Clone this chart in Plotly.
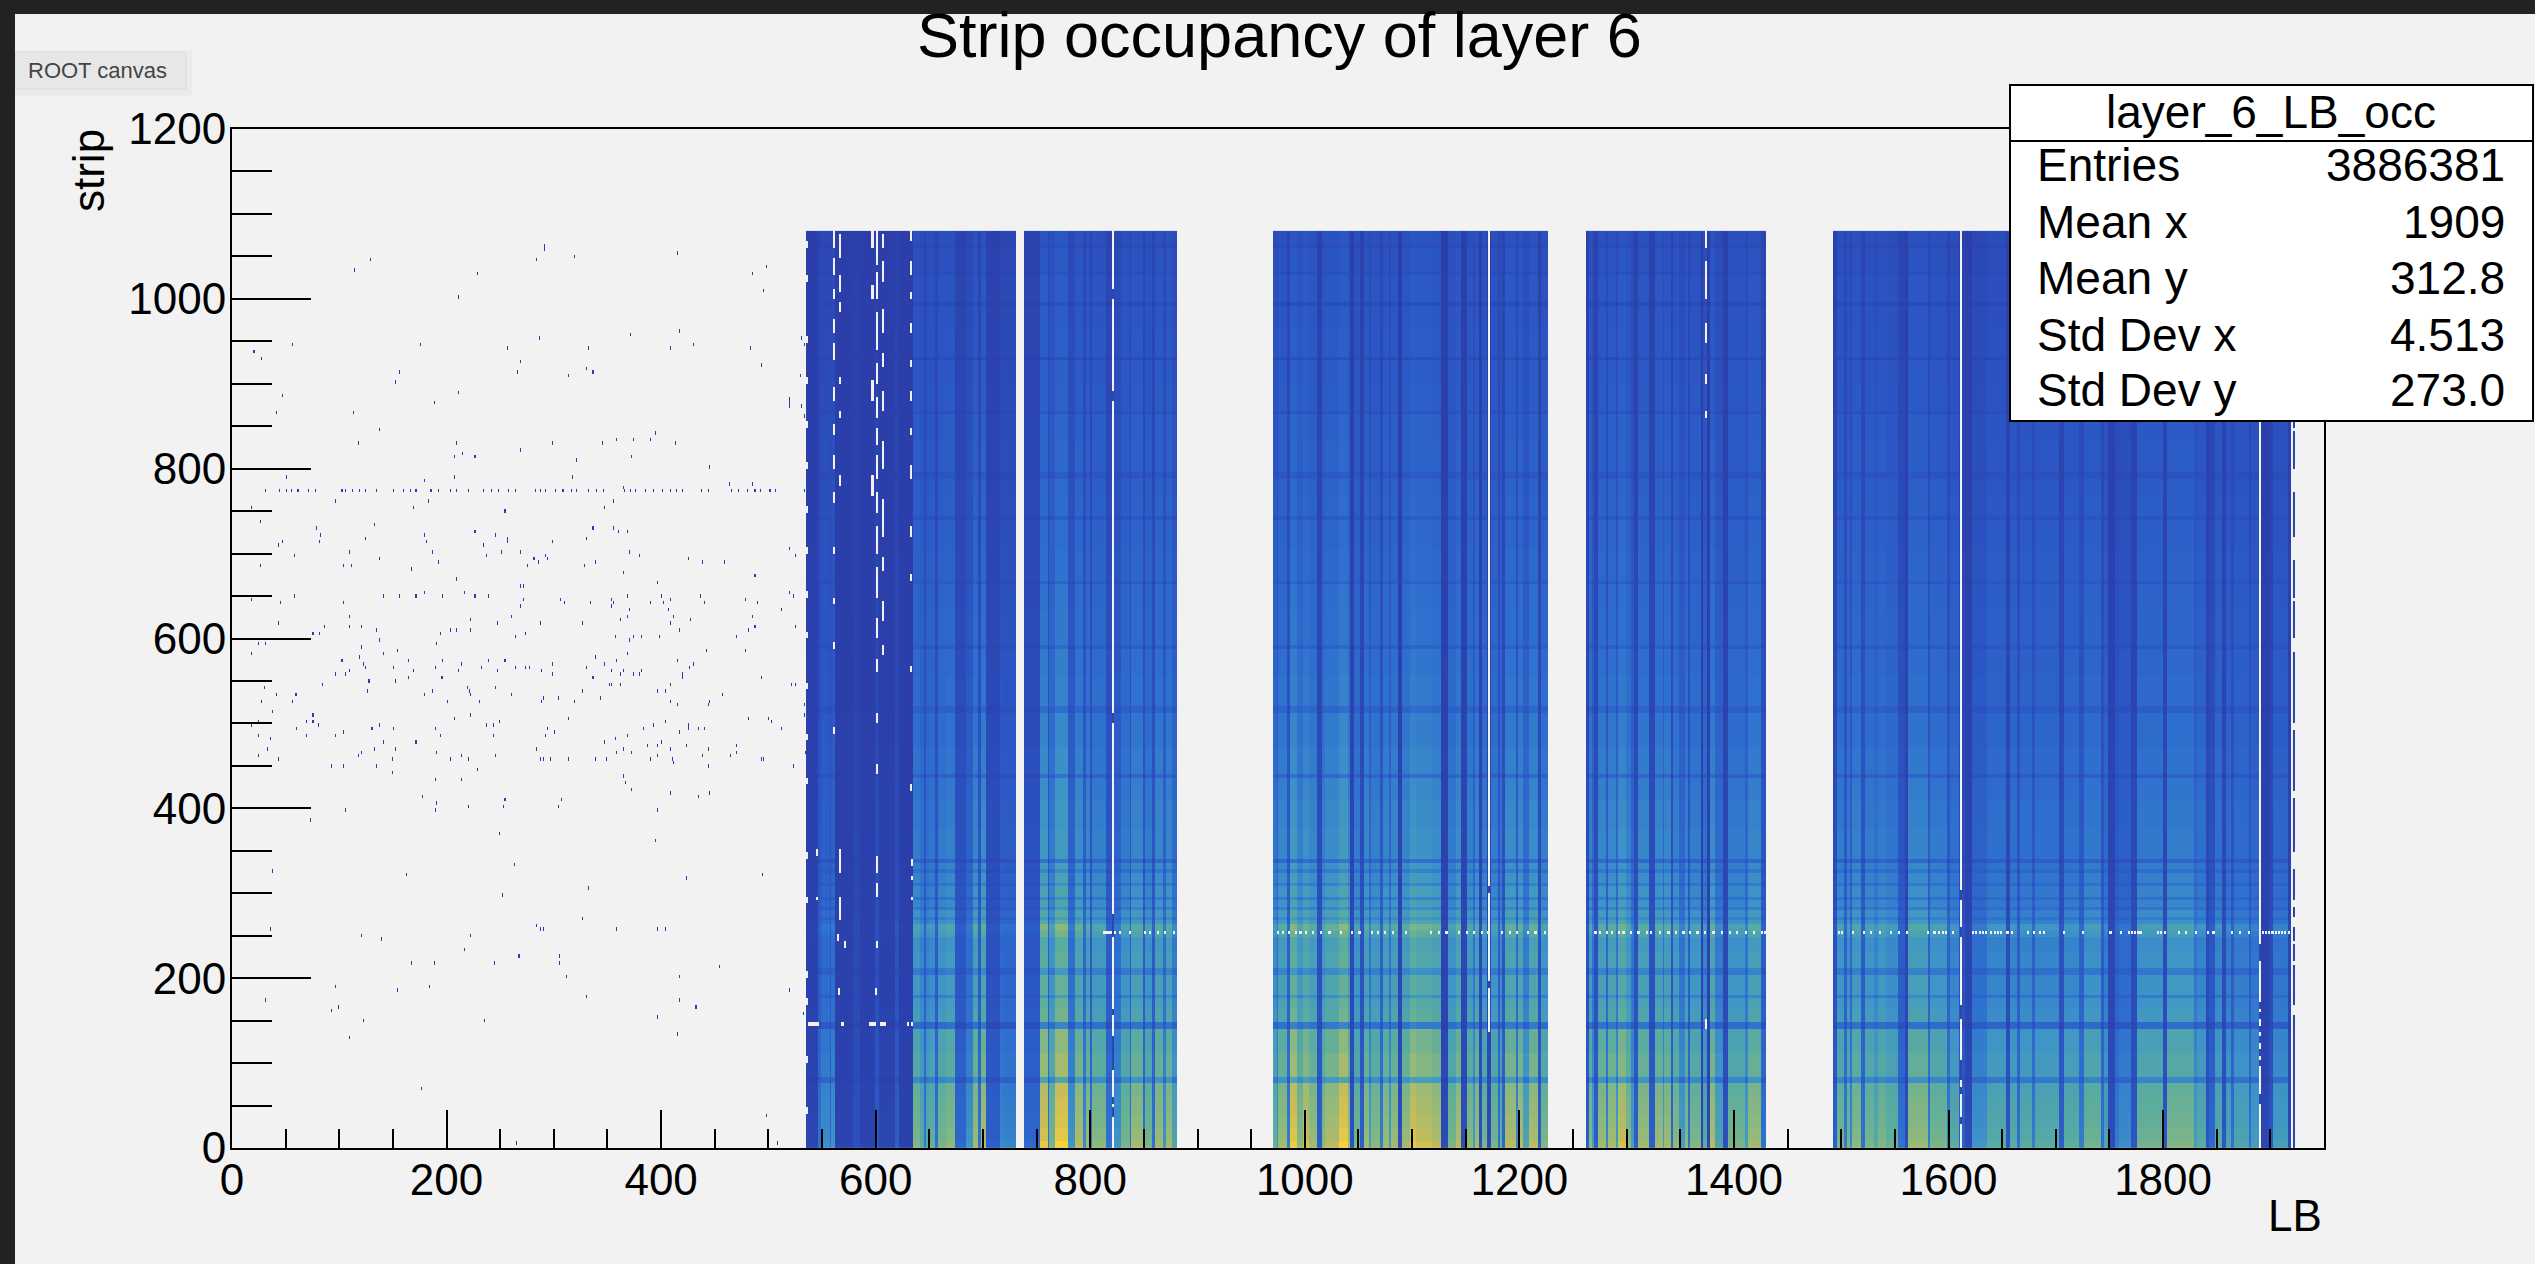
import numpy as np
import plotly.graph_objects as go

W, H = 2535, 1264
L, R, T, B = 232, 2324, 129, 1147.7
FONT = "Liberation Sans"

x_range = [0, 1950]
y_range = [0, 1200]
title_text = "Strip occupancy of layer 6"
stats_title = "layer_6_LB_occ"
stats_names = ["Entries", "Mean x", "Mean y", "Std Dev x", "Std Dev y"]
stats_values = ["3886381", "1909", "312.8", "4.513", "273.0"]

# column brightness read per LB band, one pair of lists per block of runs
block1_edges = [535,546,549,557,558,562,579,585,599,603,618,622,635]
block1_levels = [.05,.3,.42,.25,.45,.04,.12,.04,.18,.05,.2,.03]
block2_edges = [635,641,645,647,650,655,658,666,674,684,691,695,698,703,716,719,731]
block2_levels = [.72,.6,.32,.6,.65,.3,.7,.75,.25,.45,.8,.3,.85,.2,.4,.38]
block3_edges = [738,753,761,762,767,779,786,793,796,800,802,815,821,829,837,838,849,851,858,860,868,871,876,881]
block3_levels = [.25,.95,.3,.7,1.0,.45,.85,.4,.8,.3,.75,.3,.45,.7,.3,.8,.3,.7,.3,.8,.45,.8,.55]
block4_edges = [970,974,975,983,986,993,998,1004,1011,1016,1019,1032,1040,1042,1046,1051,1055,1060,1062,1070,1073,1078,1080,1087,1091,1098,1104,1119,1127,1133,1141,1146,1151,1157,1159,1162,1165,1170,1174,1180,1182,1184,1187,1197,1199,1203,1209,1217,1220,1227]
block4_levels = [.65,.45,.8,.35,.98,.75,.9,.8,.2,.75,.85,1.0,.8,.12,.7,.2,.8,.5,.75,.35,.8,.5,.8,.1,.8,.95,.9,.85,.08,.7,.85,.1,.75,.5,.8,.12,.7,.1,.7,.3,.65,.25,.85,.4,.85,.55,.85,.2,.72]
block5_edges = [1262,1265,1268,1270,1273,1281,1283,1290,1292,1299,1304,1307,1311,1321,1326,1334,1335,1341,1343,1349,1354,1357,1359,1369,1371,1375,1378,1382,1390,1394,1410,1413,1425,1430]
block5_levels = [.2,.75,.5,.2,.8,.4,.82,.5,.9,.75,.5,.2,.8,.2,.8,.5,.8,.25,.75,.5,.75,.3,.72,.05,.6,.05,.85,.55,.12,.7,.5,.8,.3]
block6_edges = [1492,1496,1503,1505,1508,1510,1518,1522,1531,1534,1542,1553,1559,1562,1581,1583,1599,1601,1610,1615,1622,1636,1654,1657,1664,1667,1678,1681,1703,1708,1722,1726,1742,1745,1749,1755,1759,1770,1776,1800,1804,1829,1832,1840,1843,1848,1855,1859,1863,1866,1880,1882,1890,1899,1902,1916,1919]
block6_levels = [.2,.7,.35,.7,.4,.75,.3,.7,.6,.72,.65,.3,.1,.78,.35,.7,.35,.6,.2,.08,.45,.6,.15,.6,.3,.6,.35,.6,.2,.62,.35,.68,.3,.55,.1,.35,.42,.15,.68,.15,.72,.5,.6,.15,.25,.6,.15,.55,.3,.55,.3,.5,.05,.15,.5,.08]

# brightness against strip, read up the plot
strip_edges = [0,8,24,40,60,78,84,112,140,148,164,178,183,206,212,232,250,258,264,268,274,280,284,294,298,308,312,326,330,338,343,376,408,438,443,472,515,520,556,590,595,632,664,669,704,740,745,768,791,796,832,866,871,900,929,934,964,994,999,1030,1034,1060,1065,1080]
strip_gain = [1.0,.95,.92,.9,.87,.55,.8,.75,.38,.68,.65,.5,.64,.47,.63,.6,.68,.74,.6,.5,.6,.45,.55,.42,.55,.42,.52,.4,.5,.32,.48,.46,.44,.3,.42,.39,.28,.37,.35,.25,.33,.32,.23,.3,.28,.2,.27,.26,.19,.25,.24,.16,.22,.21,.12,.2,.19,.11,.19,.13,.17,.12,.15]

# last dashed column at the right edge
tail_column = [1921, 1923]
tail_segments = [(0,80),(82,143),(145,154),(170,215),(221,237),(245,259),(272,280),(294,327),(350,410),(420,490),(500,580),(600,640),(650,690),(720,770),(800,840),(850,870)]

# near-white vertical lines and the places where they are interrupted
white_columns = [820, 1171, 1611, 1889]
white_gaps = {
    820: [(38,44),(52,58),(94,119),(123,128),(158,162),(250,262),(265,272),(500,510),(880,890),(1000,1010)],
    1171: [(3,17),(21,27),(31,35),(39,44),(48,58),(62,76),(80,95),(99,101),(105,113),(117,123),(125,133),(190,195),(300,305)],
    1611: [(29,35),(64,68),(80,100),(152,166),(250,258),(294,302)],
    1889: [(55,60),(98,103),(111,115),(126,128),(137,141),(152,156),(166,170),(223,237)],
}

# empty cells: (LB, lowest strip, highest strip)
empty_runs = [
    (1373,1060,1080),(1373,1000,1040),(1373,950,970),(1373,900,910),(1373,860,865),(1373,143,148),
    (560,1060,1080),(560,1030,1045),(560,1000,1010),(560,960,975),(560,930,945),(560,880,895),(560,840,850),(560,800,815),(560,760,770),(560,700,705),(560,640,645),(560,590,595),(560,490,495),
    (566,1050,1075),(566,1010,1025),(566,985,995),(566,900,905),(566,860,865),(566,780,790),(566,325,351),(566,270,294),(564,247,250),(570,237,240),(565,180,184),
    (600,1040,1080),(600,1000,1030),(600,940,980),(600,900,920),(600,860,880),(600,830,845),(600,790,815),(600,750,770),(600,700,730),(600,650,680),(600,600,620),(600,560,575),(600,500,510),(600,440,450),(600,327,340),(600,298,308),(600,239,243),(599,183,187),
    (606,1060,1075),(606,1020,1040),(606,960,985),(606,920,935),(606,870,890),(606,800,830),(606,720,760),(606,680,695),(606,620,640),(606,580,590),
    (596,1060,1080),(596,1000,1015),(596,880,900),(596,770,790),
    (632,1070,1080),(632,1030,1040),(632,1000,1005),(632,960,970),(632,920,925),(632,880,890),(632,840,845),(632,790,800),(632,720,730),(632,670,675),(632,560,565),(632,420,425),(633,333,336),(633,316,319),(633,292,295),
    (544,345,348),(544,292,295),
    (535,1060,1064),(535,1020,1024),(535,950,954),(535,900,904),(535,850,854),(535,800,804),(535,750,754),(535,700,704),(535,650,654),(535,600,604),(535,540,544),(535,480,484),(535,430,434),(535,340,344),(535,290,294),(535,200,204),(535,170,174),(535,100,104),(535,40,44),
]
# dashes of the row at strip 144 in the first block
row144_lbs = [537,539,541,543,545,568,594,596,598,604,606,608,629,633]
# dashes of the row at strip 254
row254_lbs = [812,814,816,818,820,822,827,836,850,855,862,869,877,
              974,979,984,991,995,1000,1007,1014,1022,1033,1043,1050,1062,1067,1074,1081,1093,1117,1124,1131,1143,1150,1157,1164,1170,1183,1190,1197,1207,1214,1223,
              1270,1274,1281,1285,1292,1296,1303,1310,1318,1322,1330,1338,1345,1352,1358,1365,1372,1380,1388,1395,1402,1410,1418,1425,1428,
              1497,1500,1510,1520,1527,1535,1545,1553,1560,1580,1586,1590,1594,1597,1603,1611,1622,1625,1628,1631,1634,1639,1642,1645,1648,1654,1658,1673,1679,1684,1688,1707,1724,1750,1760,1767,1770,1773,1776,1778,1794,1797,1801,1814,1820,1830,1841,1846,1863,1871,1879,1892,1895,1898,1901,1904,1907,1910,1913,1916]

# LB values of the dashed row near strip 772
row772_lbs = [31,44,50,55,61,71,77,102,105,112,118,124,134,150,159,166,171,185,192,203,209,220,234,241,248,257,264,282,287,292,301,308,316,321,332,339,346,365,371,376,385,392,401,408,414,419,437,444,465,472,480,487,492,501,506,533]

# isolated hits in the sparse left part (LB, strip)
hit_points = [
 (129,1047),(114,1033),(228,1031),(291,1061),(291,1056),(283,1044),(319,1048),(415,1053),(498,1039),(485,1030),(495,1011),(211,1002),
 (371,956),(286,954),(417,961),(430,947),(408,941),(483,943),(530,954),(533,947),(175,947),(56,946),(20,937),(27,928),(256,941),(332,941),(268,925),(266,915),(313,911),(330,916),(336,913),(493,920),(529,911),(156,913),(152,903),(47,887),(211,888),(188,878),(519,875),(519,879),(519,883),(530,875),(41,864),(113,865),(533,861),
 (137,845),(117,830),(209,828),(214,816),(207,814),(226,814),(268,822),(298,828),(345,829),(358,833),(374,835),(390,832),(394,842),(413,829),(372,815),(321,810),(445,803),(50,789),(179,787),(207,791),(317,789),(463,782),(485,782),(364,779),
 (96,763),(183,762),(355,762),(347,754),(169,754),(18,755),(254,748),(26,739),(132,734),(78,729),(82,722),(81,714),(124,718),(47,714),(43,708),(179,722),(181,714),(226,725),(245,722),(256,714),(256,718),(234,708),(237,698),(251,700),(268,703),(298,713),(292,699),(294,693),(281,693),(285,688),(275,685),(186,701),(192,690),(58,699),(109,700),(137,693),(111,686),(103,684),(26,684),(167,681),(336,729),(355,730),(360,727),(368,725),(330,717),(370,703),(379,696),(338,690),(328,686),(364,679),(425,693),(438,690),(459,690),(519,705),(525,698),(487,675),(209,669),(268,663),(271,662),(396,664),
 (18,645),(45,643),(58,648),(103,643),(141,648),(156,648),(171,651),(179,653),(196,651),(216,653),(226,650),(239,648),(271,645),(268,636),(260,627),(306,644),(309,643),(334,643),(353,645),(355,640),(353,636),(368,651),(370,635),(368,627),(362,621),(390,640),(400,650),(402,640),(408,645),(406,633),(411,626),(408,619),(427,620),(436,650),(440,640),(478,645),(489,643),(512,633),(519,655),(523,648),(485,624),(487,612),(481,610),(525,615),
 (109,626),(43,616),(109,612),(120,612),(86,613),(81,606),(75,606),(134,608),(137,597),(222,621),(247,619),(287,616),(326,619),(194,607),(203,610),(209,610),(222,610),(264,602),(273,607),(357,602),(370,598),(374,601),(381,600),(398,602),(417,610),(470,602),
 (24,593),(31,593),(18,582),(190,593),(120,588),(141,583),(154,586),(368,583),(442,586),(478,586),(118,578),(122,570),(102,573),(164,573),(196,574),(239,573),(254,574),(338,576),(358,573),(347,570),(415,572),(430,569),(426,564),(189,567),(213,570),(298,569),(124,564),(150,564),(232,564),(264,564),(273,564),(277,564),(330,564),(353,562),(364,562),(109,561),(96,557),(105,557),(169,561),(164,555),(211,560),(247,560),(288,560),(298,557),(362,557),(374,558),(379,557),(381,561),(419,559),(419,554),(493,555),(195,553),(196,553),(336,552),(127,549),(128,549),(152,549),(84,547),(362,547),(353,547),(351,545),(408,546),(521,547),(525,547),
 (219,542),(221,539),(245,542),(30,540),(126,537),(186,538),(260,535),(326,537),(396,538),(404,538),(457,535),(41,534),(59,534),(60,534),(179,533),(222,535),(343,531),(290,531),(288,526),(304,528),(56,526),(27,527),(200,526),(230,526),(319,526),(408,526),(415,523),(445,525),(444,520),(533,522),
 (37,514),(75,510),(69,502),(75,503),(80,499),(24,502),(18,499),(207,506),(222,508),(313,507),(481,507),(500,507),(502,502),(533,511),(249,502),(243,499),(237,497),(60,495),(130,495),(137,497),(150,492),(189,495),(392,497),(404,503),(425,498),(425,494),(434,495),(440,495),(512,495),(383,493),(417,491),
 (69,487),(96,487),(103,490),(194,487),(243,485),(294,492),(300,490),(292,485),(368,487),(24,484),(35,480),(141,478),(171,479),(347,479),(357,480),(400,479),(387,474),(423,473),(33,471),(444,471),(470,473),(132,468),(120,466),(117,462),(152,468),(190,466),(283,471),(396,472),(408,468),(364,469),(358,465),(372,466),(396,463),(438,463),(470,467),(464,463),(24,463),(43,458),(213,461),(220,459),(245,462),(149,459),(203,456),(287,457),(290,459),(296,459),(313,459),(338,459),(349,456),(390,456),(410,456),(411,454),(493,458),(495,456),(534,465),
 (92,451),(103,449),(134,449),(228,447),(444,451),(523,448),(149,442),(213,434),(189,432),(364,436),(366,429),(372,420),(408,417),(434,413),(445,417),(177,413),(254,408),(253,403),(307,411),(304,403),(190,404),(189,399),(220,403),(105,398),(396,399),(73,385),(249,370),(394,361),
 (37,327),(162,320),(263,333),(423,318),(494,320),(332,306),(252,296),(326,270),(35,258),(120,251),(139,244),(222,251),(283,263),(287,259),(290,258),(358,259),(396,258),(404,258),(216,235),(167,217),(188,218),(244,217),(267,227),(305,227),(305,219),(311,202),(454,213),(96,190),(154,186),(184,191),(417,200),(519,185),(31,173),(330,177),(417,172),(432,165),(92,162),(99,165),(396,154),(122,151),(235,151),(109,129),(415,135),(176,70),(498,37),(265,4),(508,4),(500,3),(532,158),
]

# colours seen from lowest to highest occupancy
color_stops = [0, .15, .3, .45, .6, .75, .88, 1]
color_values = ["#2b3da8","#2b56c4","#2f72cf","#3f96c6","#59ac9f","#8fb97c","#cabc58","#f5d23a"]

LB_BIN, STRIP_BIN = 1, 4
lb_axis = np.arange(x_range[0], x_range[1] + LB_BIN, LB_BIN)
strip_axis = np.arange(0, 1080 + STRIP_BIN, STRIP_BIN)
z = np.full((len(strip_axis) - 1, len(lb_axis) - 1), np.nan)

assert len(strip_edges) == len(strip_gain) + 1
row_gain = np.zeros(z.shape[0])
for i in range(len(strip_gain)):
    row_gain[strip_edges[i] // STRIP_BIN:int(np.ceil(strip_edges[i + 1] / STRIP_BIN))] = strip_gain[i]

blocks = [(block1_edges, block1_levels), (block2_edges, block2_levels), (block3_edges, block3_levels),
          (block4_edges, block4_levels), (block5_edges, block5_levels), (block6_edges, block6_levels)]
for edges, levels in blocks:
    assert len(edges) == len(levels) + 1
    for j, lv in enumerate(levels):
        z[:, edges[j]:edges[j + 1]] = (row_gain * lv)[:, None]

def row_of(s):
    return min(int(s) // STRIP_BIN, z.shape[0] - 1)

for lo, hi in tail_segments:
    z[row_of(lo):row_of(hi) + 1, tail_column[0]:tail_column[1]] = .05

for lb, lo, hi in empty_runs:
    z[row_of(lo):row_of(hi) + 1, lb:lb + 2] = np.nan
for lb in row144_lbs:
    z[row_of(144), lb:lb + 2] = np.nan
for lb in row254_lbs:
    z[row_of(254), lb:lb + 2] = np.nan

for col in white_columns:
    z[:, col:col + 2] = np.nan
    for lo, hi in white_gaps[col]:
        z[row_of(lo):row_of(hi) + 1, col:col + 2] = .06

for lb in row772_lbs:
    z[row_of(772), lb] = 0
for lb, s in hit_points:
    z[row_of(s), lb] = 0

def px(x):
    return (x - L) / (R - L)

def py(y):
    return (B - y) / (B - T)

def rect(x0, y0, x1, y1, fill, line=None, width=0):
    return dict(type="rect", xref="paper", yref="paper", x0=px(x0), x1=px(x1), y0=py(y0), y1=py(y1),
                fillcolor=fill, line=dict(color=line or fill, width=width), layer="above")

def text(x, y, s, size, xanchor="center", yanchor="middle", color="#000000", angle=0):
    return dict(xref="paper", yref="paper", x=px(x), y=py(y), text=s, showarrow=False, xanchor=xanchor,
                yanchor=yanchor, textangle=angle, borderpad=0, font=dict(family=FONT, size=size, color=color))

fig = go.Figure(go.Heatmap(
    x=lb_axis, y=strip_axis, z=z, zmin=0, zmax=1, showscale=False, hoverongaps=False, hoverinfo="skip",
    colorscale=[[a, c] for a, c in zip(color_stops, color_values)],
))

shapes = [
    rect(15, 50, 192, 96, "#ebebeb"),
    rect(15, 52, 186, 89, "#e8e7e7", "#dcdcdc", 1),
    rect(0, 0, W, 14, "#222222"),
    rect(0, 0, 15, H, "#222222"),
    rect(2010, 85, 2533, 421, "#ffffff", "#000000", 2),
    dict(type="line", xref="paper", yref="paper", x0=px(2010), x1=px(2533), y0=py(141), y1=py(141),
         line=dict(color="#000000", width=2), layer="above"),
]
annotations = [
    text(1279, 35, title_text, 63),
    text(27, 71, "ROOT canvas", 22, xanchor="left", color="#444444"),
    text(88, 171, "strip", 44, angle=-90),
    text(2323, 1215, "LB", 44, xanchor="right"),
    text(2271, 112, stats_title, 46),
]
for name, value, y in zip(stats_names, stats_values, [165, 222, 278, 335, 390]):
    annotations.append(text(2036, y, name, 46, xanchor="left"))
    annotations.append(text(2506, y, value, 46, xanchor="right"))

axis = dict(showgrid=False, zeroline=False, showline=True, mirror=True, linecolor="#000000", linewidth=2,
            ticks="inside", tickcolor="#000000", tickwidth=2, tick0=0, dtick=200,
            tickfont=dict(family=FONT, size=44, color="#000000"))

fig.update_layout(
    width=W, height=H, margin=dict(l=L, r=W - R, t=T, b=H - B, pad=0), autosize=False,
    paper_bgcolor="#f2f2f2", plot_bgcolor="#f2f2f2", showlegend=False,
    xaxis=dict(axis, range=x_range, ticklen=38, ticklabelstandoff=-8,
               minor=dict(ticks="inside", ticklen=19, tickwidth=2, tickcolor="#000000", tick0=0, dtick=50)),
    yaxis=dict(axis, range=y_range, ticklen=79, ticklabelstandoff=-5,
               minor=dict(ticks="inside", ticklen=40, tickwidth=2, tickcolor="#000000", tick0=0, dtick=50)),
    shapes=shapes, annotations=annotations,
)

fig.write_html("out.html", config=dict(displayModeBar=False),
               post_script="document.body.style.margin='0';document.body.style.overflow='hidden';")
